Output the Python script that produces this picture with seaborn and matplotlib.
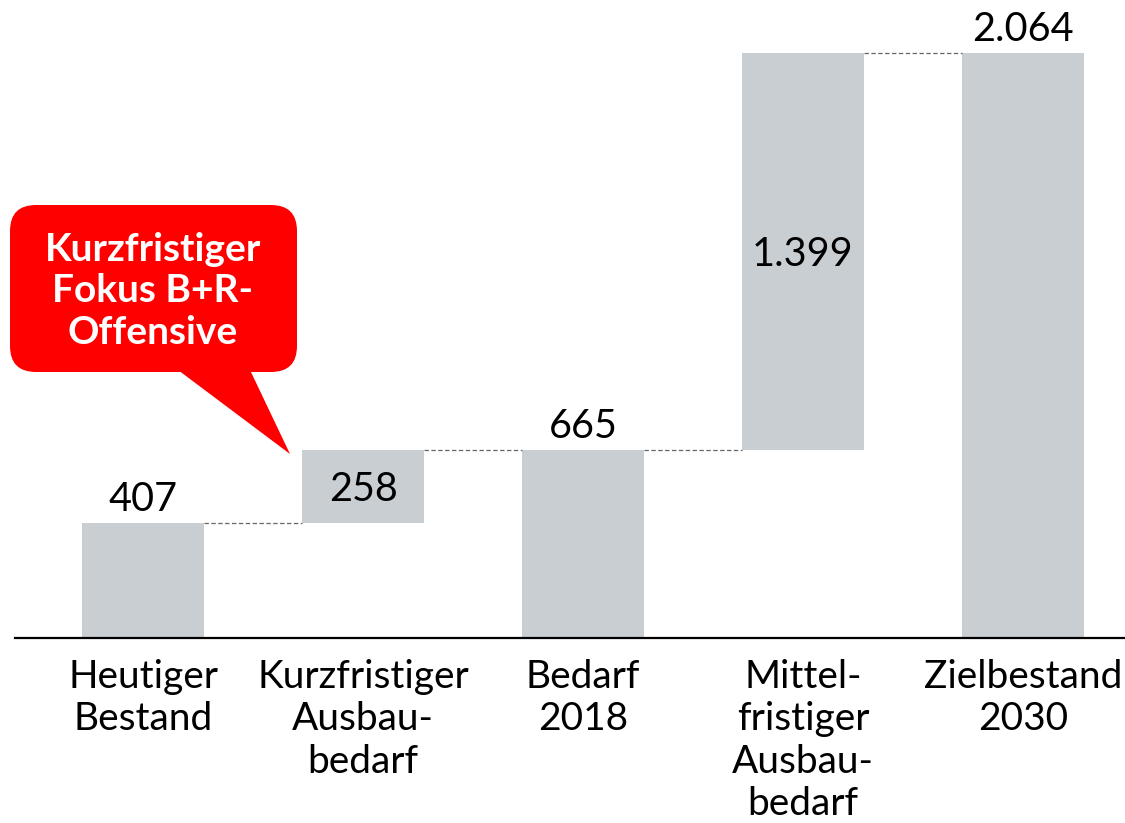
import pandas as pd
import numpy as np
import matplotlib
matplotlib.use("Agg")
import matplotlib.pyplot as plt
import seaborn as sns
from matplotlib.patches import FancyBboxPatch, Polygon

categories = ["Heutiger\nBestand", "Kurzfristiger\nAusbau-\nbedarf", "Bedarf\n2018",
              "Mittel-\nfristiger\nAusbau-\nbedarf", "Zielbestand\n2030"]
values = [407, 258, 665, 1399, 2064]
bottoms = [0, 407, 0, 665, 0]
value_labels = ["407", "258", "665", "1.399", "2.064"]
label_inside = [False, True, False, True, False]
callout_text = "Kurzfristiger\nFokus B+R-\nOffensive"

BAR_COLOR = "#C9CED3"
RED = "#FF0000"
FONT = "Lato"

sns.set_theme(style="white")
plt.rcParams["font.family"] = [FONT, "DejaVu Sans"]

df = pd.DataFrame({"cat": categories, "value": values})

fig = plt.figure(figsize=(11.25, 8.23), dpi=100)
ax = fig.add_axes([15 / 1125, 185 / 823, 1110 / 1125, 638 / 823])

width = 0.555
sns.barplot(data=df, x="cat", y="value", color=BAR_COLOR, saturation=1,
            width=width, bottom=bottoms, ax=ax, linewidth=0)

ax.set_xlim(-0.582, 4.464)
ax.set_ylim(0, 2251)

# dashed connectors between bars
tops = [b + v for b, v in zip(bottoms, values)]
for i in range(len(values) - 1):
    ax.plot([i + width / 2, i + 1 - width / 2], [tops[i], tops[i]],
            ls=(0, (3.5, 2)), color="#666666", lw=0.9)

# value labels
for i, (b, v, lab, inside) in enumerate(zip(bottoms, values, value_labels, label_inside)):
    if inside:
        ax.text(i, b + v / 2, lab, ha="center", va="center_baseline", fontsize=28.5, color="black")
    else:
        ax.annotate(lab, (i, b + v), xytext=(0, 8.5), textcoords="offset points",
                    ha="center", va="baseline", fontsize=28.5, color="black")

ax.set_xlabel("")
ax.set_ylabel("")
ax.set_yticks([])
ax.tick_params(axis="x", length=0, pad=15, labelsize=28, colors="black")
for lab in ax.get_xticklabels():
    lab.set_linespacing(1.22)
for s in ["left", "right", "top"]:
    ax.spines[s].set_visible(False)
ax.spines["bottom"].set_color("black")
ax.spines["bottom"].set_linewidth(1.6)

# speech-bubble callout (inches, figure space)
tr = fig.dpi_scale_trans
box = FancyBboxPatch((0.10, 4.51), 2.87, 1.67, boxstyle="round,pad=0,rounding_size=0.26",
                     transform=tr, facecolor=RED, edgecolor="none", zorder=5)
fig.patches.append(box)
tail = Polygon([(1.78, 4.53), (2.50, 4.53), (2.90, 3.69)], closed=True,
               transform=tr, facecolor=RED, edgecolor="none", zorder=5)
fig.patches.append(tail)
fig.text(1.53, 5.32, callout_text, transform=tr, ha="center", va="center",
         fontsize=28, fontweight="bold", color="white", linespacing=1.22, zorder=6)

fig.savefig("out.png", dpi=100)
